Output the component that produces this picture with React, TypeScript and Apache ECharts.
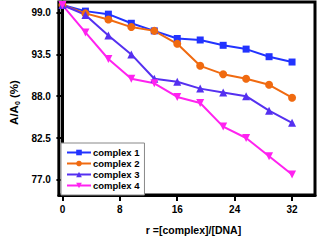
import React, { useEffect, useRef } from "react";
import * as echarts from "echarts";

const xValues = [0, 3.2, 6.4, 9.6, 12.8, 16, 19.2, 22.4, 25.6, 28.8, 32];
const complex1 = [100, 99.2, 98.8, 97.6, 96.6, 95.6, 95.4, 94.7, 94.2, 93.2, 92.5];
const complex2 = [100, 98.9, 98.1, 97.1, 96.6, 94.9, 92.0, 90.9, 90.3, 89.5, 87.8];
const complex3 = [100, 98.7, 96.0, 93.5, 90.3, 89.9, 89.0, 88.5, 88.0, 86.1, 84.5];
const complex4 = [100, 96.4, 92.9, 90.3, 89.7, 87.9, 87.1, 84.0, 82.5, 80.1, 77.7];
const seriesNames = ["complex 1", "complex 2", "complex 3", "complex 4"];
const yTicks = [77, 82.5, 88, 93.5, 99];
const xTicks = [0, 8, 16, 24, 32];

const FONT = "'Liberation Sans', Arial, sans-serif";

export default function App() {
  const ref = useRef<HTMLDivElement>(null);
  useEffect(() => {
    if (!ref.current) return;
    const chart = echarts.init(ref.current, null, { renderer: "svg" });
    const mk = (name: string, vals: number[], color: string, symbol: string, size: number, rotate = 0) => ({
      name,
      type: "line",
      data: xValues.map((x, i) => [x, vals[i]]),
      symbol,
      symbolSize: size,
      symbolRotate: rotate,
      lineStyle: { color, width: 2 },
      itemStyle: { color },
      z: 3,
    });
    chart.setOption({
      animation: false,
      grid: {
        left: 47,
        right: 3,
        top: 2,
        bottom: 41,
        show: true,
        borderColor: "#000",
        borderWidth: 3,
        backgroundColor: "#fff",
      },
      legend: {
        orient: "vertical",
        left: 61,
        bottom: 45,
        data: seriesNames,
        itemWidth: 24,
        itemHeight: 7,
        itemGap: 0,
        padding: [4, 5, 4, 5],
        borderColor: "#888",
        borderWidth: 1,
        backgroundColor: "#fff",
        textStyle: { fontFamily: FONT, fontWeight: "bold", fontSize: 9.5, lineHeight: 11, color: "#000", padding: [0, 0, 0, -3] },
      },
      xAxis: {
        type: "value",
        min: -0.5,
        max: 35.2,
        name: "r =[complex]/[DNA]",
        nameLocation: "middle",
        nameGap: 29,
        nameTextStyle: { fontFamily: FONT, fontWeight: "bold", fontSize: 10.5, color: "#000", padding: [0, 0, 0, 13] },
        axisLine: { show: true, lineStyle: { color: "#000", width: 3 } },
        axisTick: { show: true, customValues: xTicks, length: 6, lineStyle: { color: "#000", width: 2 } },
        axisLabel: {
          customValues: xTicks,
          fontFamily: FONT,
          fontWeight: "bold",
          fontSize: 10,
          color: "#000",
          margin: 9,
        },
        splitLine: { show: false },
      },
      yAxis: {
        type: "value",
        min: 75,
        max: 100.4,
        name: "A/A{sub|0} (%)",
        nameLocation: "middle",
        nameGap: 31,
        nameRotate: 90,
        nameTextStyle: {
          fontFamily: FONT,
          fontWeight: "bold",
          fontSize: 11.5,
          color: "#000",
          padding: [0, 8, 0, 0],
          rich: {
            sub: { fontFamily: FONT, fontWeight: "bold", fontSize: 7, color: "#000", verticalAlign: "bottom", padding: [6, 0, 0, 0] },
          },
        },
        axisLine: { show: true, lineStyle: { color: "#000", width: 3 } },
        axisTick: { show: true, customValues: yTicks, length: 6, lineStyle: { color: "#000", width: 2 } },
        axisLabel: {
          customValues: yTicks,
          formatter: (v: number) => v.toFixed(1),
          fontFamily: FONT,
          fontWeight: "bold",
          fontSize: 10,
          color: "#000",
          margin: 8,
        },
        splitLine: { show: false },
      },
      series: [
        mk(seriesNames[0], complex1, "#2233ff", "rect", 7),
        mk(seriesNames[1], complex2, "#f06a10", "circle", 8),
        mk(seriesNames[2], complex3, "#5530f0", "triangle", 8),
        mk(seriesNames[3], complex4, "#ff22f0", "triangle", 8, 180),
      ],
    });
    return () => chart.dispose();
  }, []);
  return <div ref={ref} style={{ width: 318, height: 240, position: "absolute", left: 0, top: 0 }} />;
}
